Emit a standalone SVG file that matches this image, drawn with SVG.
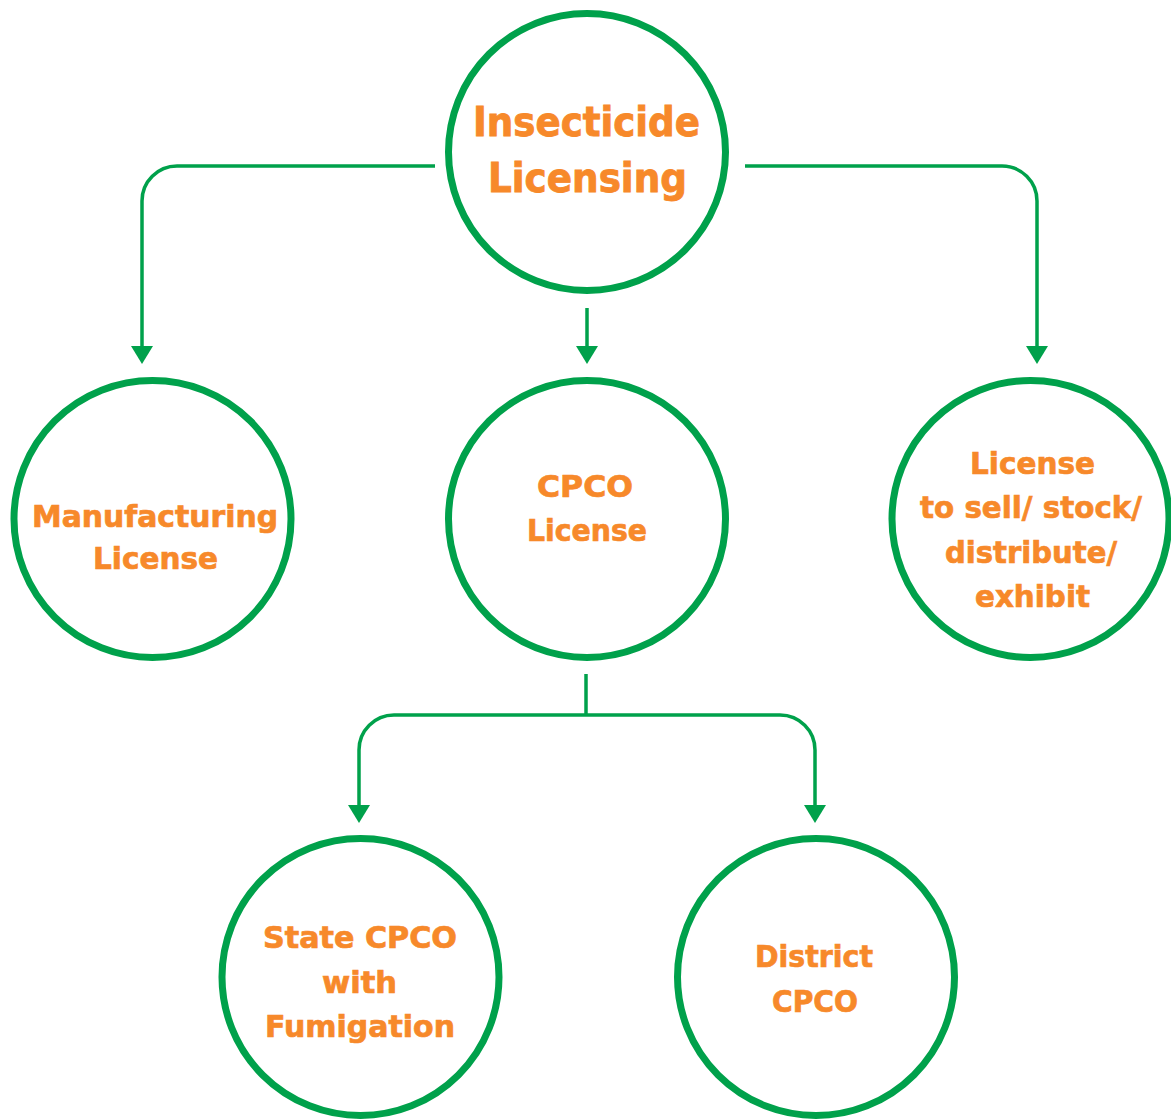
<svg xmlns="http://www.w3.org/2000/svg" width="1171" height="1119" viewBox="0 0 1171 1119">
<style>
.node{fill:#ffffff;stroke:#00A14B;stroke-width:7}
.conn{fill:none;stroke:#00A14B;stroke-width:3.5}
.t{font-family:"DejaVu Sans","Liberation Sans",sans-serif;font-weight:bold;fill:#F7892A;stroke:#F7892A;stroke-width:0.7;text-anchor:middle;font-size:30px}
.big{font-size:40px;stroke-width:0.9}
</style>
<defs>
<marker id="arr" viewBox="0 0 18 22" refX="0" refY="11" markerWidth="18" markerHeight="22" markerUnits="userSpaceOnUse" orient="auto">
<path d="M0,0 L18,11 L0,22 z" fill="#00A14B"/>
</marker>
</defs>
<rect width="1171" height="1119" fill="#ffffff"/>
<g id="connectors">
<path class="conn" d="M435,166 H177 A35,35 0 0 0 142,201 V346" marker-end="url(#arr)"/>
<path class="conn" d="M745,166 H1002 A35,35 0 0 1 1037,201 V346" marker-end="url(#arr)"/>
<path class="conn" d="M587,308 V346" marker-end="url(#arr)"/>
<path class="conn" d="M586,674 V715"/>
<path class="conn" d="M586,715 H394 A35,35 0 0 0 359,750 V805" marker-end="url(#arr)"/>
<path class="conn" d="M586,715 H780 A35,35 0 0 1 815,750 V805" marker-end="url(#arr)"/>
</g>
<g id="insecticide-licensing">
<circle class="node" cx="587" cy="152" r="138.5"/>
<text class="t big" x="586.5" y="136" textLength="227" lengthAdjust="spacingAndGlyphs">Insecticide</text>
<text class="t big" x="587.5" y="192" textLength="199" lengthAdjust="spacingAndGlyphs">Licensing</text>
</g>
<g id="manufacturing-license">
<circle class="node" cx="152.5" cy="519" r="138.5"/>
<text class="t" x="155" y="527" textLength="246" lengthAdjust="spacingAndGlyphs">Manufacturing</text>
<text class="t" x="155.5" y="569" textLength="125" lengthAdjust="spacingAndGlyphs">License</text>
</g>
<g id="cpco-license">
<circle class="node" cx="587" cy="519" r="138.5"/>
<text class="t" x="585" y="497" textLength="96" lengthAdjust="spacingAndGlyphs">CPCO</text>
<text class="t" x="587" y="541" textLength="120" lengthAdjust="spacingAndGlyphs">License</text>
</g>
<g id="license-to-sell">
<circle class="node" cx="1030.5" cy="519" r="138.5"/>
<text class="t" x="1032.5" y="474" textLength="125" lengthAdjust="spacingAndGlyphs">License</text>
<text class="t" x="1031" y="518" textLength="222" lengthAdjust="spacingAndGlyphs">to sell/ stock/</text>
<text class="t" x="1031" y="563" textLength="172" lengthAdjust="spacingAndGlyphs">distribute/</text>
<text class="t" x="1032.5" y="607" textLength="115" lengthAdjust="spacingAndGlyphs">exhibit</text>
</g>
<g id="state-cpco">
<circle class="node" cx="360.5" cy="977" r="138.5"/>
<text class="t" x="360" y="948" textLength="194" lengthAdjust="spacingAndGlyphs">State CPCO</text>
<text class="t" x="359.5" y="993" textLength="75" lengthAdjust="spacingAndGlyphs">with</text>
<text class="t" x="360" y="1037" textLength="190" lengthAdjust="spacingAndGlyphs">Fumigation</text>
</g>
<g id="district-cpco">
<circle class="node" cx="816" cy="977" r="138.5"/>
<text class="t" x="814" y="967" textLength="118" lengthAdjust="spacingAndGlyphs">District</text>
<text class="t" x="815" y="1012" textLength="86" lengthAdjust="spacingAndGlyphs">CPCO</text>
</g>
</svg>
